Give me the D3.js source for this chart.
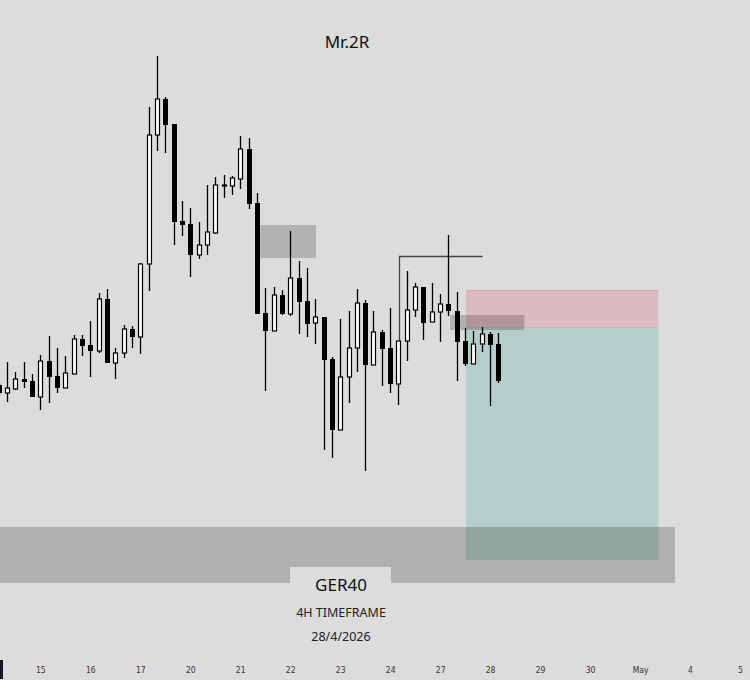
<!DOCTYPE html>
<html>
<head>
<meta charset="utf-8">
<script src="https://cdn.jsdelivr.net/npm/d3@7"></script>
<style>
  html, body { margin: 0; padding: 0; background: #dcdcdc; }
  svg { display: block; }
</style>
</head>
<body>
<div id="chart"></div>
<script>
// GER40 4H candles, index 0 = first bar of the 15th
const idx   = d3.range(-5, 56);
const opens = [23460,23428,23444,23484,23476,23412,23556,23496,23448,23504,23644,23620,23596,23804,23548,23588,23684,23652,23944,24460,24604,24504,24116,24104,23980,24020,24068,24256,24256,24284,24404,24188,23748,23676,23820,23744,23888,23796,23708,23732,23564,23280,23492,23608,23788,23540,23672,23608,23464,23636,23760,23852,23712,23752,23784,23756,23636,23544,23624,23664,23624];
const highs = [23468,23552,23512,23552,23504,23580,23656,23608,23576,23660,23660,23716,23828,23844,23608,23700,23696,23948,24572,24776,24612,24504,24196,24168,24112,24260,24292,24300,24296,24456,24448,24228,23848,23852,23840,24076,23956,23928,23804,23732,23572,23724,23756,23844,23800,23756,23680,23768,23636,23916,23868,23852,23868,23824,24060,23832,23688,23676,23692,23672,23668];
const lows  = [23420,23392,23440,23448,23412,23360,23388,23428,23448,23504,23576,23492,23588,23548,23484,23568,23608,23584,23836,24396,24388,24020,24056,23892,23964,23980,24064,24208,24220,24244,24164,23744,23436,23676,23740,23736,23664,23652,23624,23200,23168,23280,23388,23512,23116,23540,23456,23428,23380,23556,23732,23640,23712,23632,23736,23476,23536,23544,23592,23376,23468];
const closes= [23428,23448,23484,23472,23412,23556,23492,23448,23508,23644,23616,23596,23804,23548,23588,23684,23652,23944,24460,24604,24500,24112,24100,23980,24020,24072,24260,24260,24288,24404,24184,23744,23676,23820,23744,23888,23792,23704,23732,23560,23280,23492,23608,23788,23540,23672,23604,23464,23636,23760,23852,23708,23752,23784,23756,23632,23544,23624,23664,23620,23476];

const dayLabels = ["15","16","17","20","21","22","23","24","27","28","29","30","May","4","5"];
const barsPerDay = 6;

// annotations (bar index / price)
const supplyZone = { i0: 26.4, i1: 33.1, top: 24100, bottom: 23968 };
const entryBox   = { i0: 49.2, i1: 58.1, top: 23740, bottom: 23680 };
const position   = { i0: 51.1, i1: 74.2, stop: 23840, entry: 23692, target: 22760 };
const highLine   = { i0: 43.07, i1: 53.1, price: 23976, from: 23636 };
const demandBand = { i0: -4.84, i1: 76.2, top: 22892, bottom: 22668 };

const title = "Mr.2R";
const symbolText = "GER40";
const tfText = "4H TIMEFRAME";
const dateText = "28/4/2026";

const width = 750, height = 680;
const bg = "#dcdcdc";

const candles = idx.map((i, k) => ({ i, o: opens[k], h: highs[k], l: lows[k], c: closes[k] }));

const svg = d3.select("#chart").append("svg")
    .attr("width", width)
    .attr("height", height)
    .style("background", bg);

const x = d3.scaleLinear().domain([0, 84]).range([40.3, 740]);
const y = d3.scaleLinear().domain([22280, 25000]).range([680, 0]);
const bodyW = 5;

// supply zone
svg.append("rect")
    .attr("x", x(supplyZone.i0))
    .attr("y", y(supplyZone.top))
    .attr("width", x(supplyZone.i1) - x(supplyZone.i0))
    .attr("height", y(supplyZone.bottom) - y(supplyZone.top))
    .attr("fill", "#b2b2b2");

// long/short position tool
const posG = svg.append("g").classed("position", true);
posG.append("rect")
    .attr("x", x(position.i0))
    .attr("y", y(position.stop))
    .attr("width", x(position.i1) - x(position.i0))
    .attr("height", y(position.entry) - y(position.stop))
    .attr("fill", "#dcbbc0");
posG.append("rect")
    .attr("x", x(position.i0))
    .attr("y", y(position.entry))
    .attr("width", x(position.i1) - x(position.i0))
    .attr("height", y(position.target) - y(position.entry))
    .attr("fill", "#b4cfc9");
posG.append("line")
    .attr("x1", x(position.i0)).attr("x2", x(position.i1))
    .attr("y1", Math.round(y(position.stop)) + 0.5)
    .attr("y2", Math.round(y(position.stop)) + 0.5)
    .attr("stroke", "#e8a2aa");
posG.append("line")
    .attr("x1", x(position.i0)).attr("x2", x(position.i1))
    .attr("y1", Math.round(y(position.entry)) + 0.5)
    .attr("y2", Math.round(y(position.entry)) + 0.5)
    .attr("stroke", "#b9b9c0");

// high line bracket
svg.append("path")
    .attr("d", `M${Math.round(x(highLine.i0)) + 0.5},${y(highLine.from)}V${Math.round(y(highLine.price)) + 0.5}H${x(highLine.i1)}`)
    .attr("fill", "none")
    .attr("stroke", "#444")
    .attr("stroke-width", 1.3);

// candles
const cg = svg.append("g").classed("candles", true);
const bar = cg.selectAll(".candle")
    .data(candles)
    .enter()
    .append("g")
    .classed("candle", true)
    .attr("transform", d => `translate(${Math.round(x(d.i))},0)`);

bar.append("line")
    .attr("x1", 0.5).attr("x2", 0.5)
    .attr("y1", d => y(d.h))
    .attr("y2", d => y(d.l))
    .attr("stroke", "#000")
    .attr("stroke-width", 1.3);

bar.append("rect")
    .attr("x", d => d.c >= d.o ? -1.5 : -2)
    .attr("width", d => d.c >= d.o ? bodyW - 1 : bodyW)
    .attr("y", d => y(Math.max(d.o, d.c)))
    .attr("height", d => Math.max(1, Math.abs(y(d.o) - y(d.c))))
    .attr("fill", d => d.c >= d.o ? "#fff" : "#000")
    .attr("stroke", d => d.c >= d.o ? "#000" : "none")
    .attr("stroke-width", 1.2);

// entry box (transparent)
svg.append("rect")
    .attr("x", x(entryBox.i0))
    .attr("y", y(entryBox.top))
    .attr("width", x(entryBox.i1) - x(entryBox.i0))
    .attr("height", y(entryBox.bottom) - y(entryBox.top))
    .attr("fill", "rgba(0,0,0,0.2)");

// demand band
svg.append("rect")
    .attr("x", x(demandBand.i0))
    .attr("y", y(demandBand.top))
    .attr("width", x(demandBand.i1) - x(demandBand.i0))
    .attr("height", y(demandBand.bottom) - y(demandBand.top))
    .attr("fill", "rgba(0,0,0,0.2)");

// label box
svg.append("rect")
    .attr("x", 290).attr("y", 567)
    .attr("width", 101).attr("height", 40)
    .attr("fill", bg);

const font = "'Noto Sans', 'Open Sans', sans-serif";
svg.append("text")
    .attr("x", 347).attr("y", 48)
    .attr("text-anchor", "middle")
    .style("font-family", font)
    .style("font-size", "17px")
    .style("fill", "#111")
    .text(title);

svg.append("text")
    .attr("x", 341).attr("y", 591)
    .attr("text-anchor", "middle")
    .style("font-family", font)
    .style("font-size", "17px")
    .style("fill", "#111")
    .text(symbolText);

svg.append("text")
    .attr("x", 341).attr("y", 617)
    .attr("text-anchor", "middle")
    .style("font-family", font)
    .style("font-size", "12.5px")
    .style("fill", "#222")
    .text(tfText);

svg.append("text")
    .attr("x", 341).attr("y", 641)
    .attr("text-anchor", "middle")
    .style("font-family", font)
    .style("font-size", "12.5px")
    .style("fill", "#222")
    .text(dateText);

// time axis
const xAxis = d3.axisBottom(x)
    .tickValues(dayLabels.map((d, i) => i * barsPerDay))
    .tickFormat((d, i) => dayLabels[i])
    .tickSize(0)
    .tickPadding(0);
const axisG = svg.append("g")
    .classed("x axis", true)
    .attr("transform", `translate(0,${667})`)
    .call(xAxis);
axisG.select(".domain").remove();
axisG.selectAll("text")
    .style("font-family", "'DejaVu Sans Condensed', 'Liberation Sans Narrow', sans-serif")
    .style("font-size", "8.5px")
    .style("fill", "#333");

// corner marker
svg.append("rect")
    .attr("x", 0).attr("y", 660)
    .attr("width", 3).attr("height", 19)
    .attr("fill", "#131722");
</script>
</body>
</html>
